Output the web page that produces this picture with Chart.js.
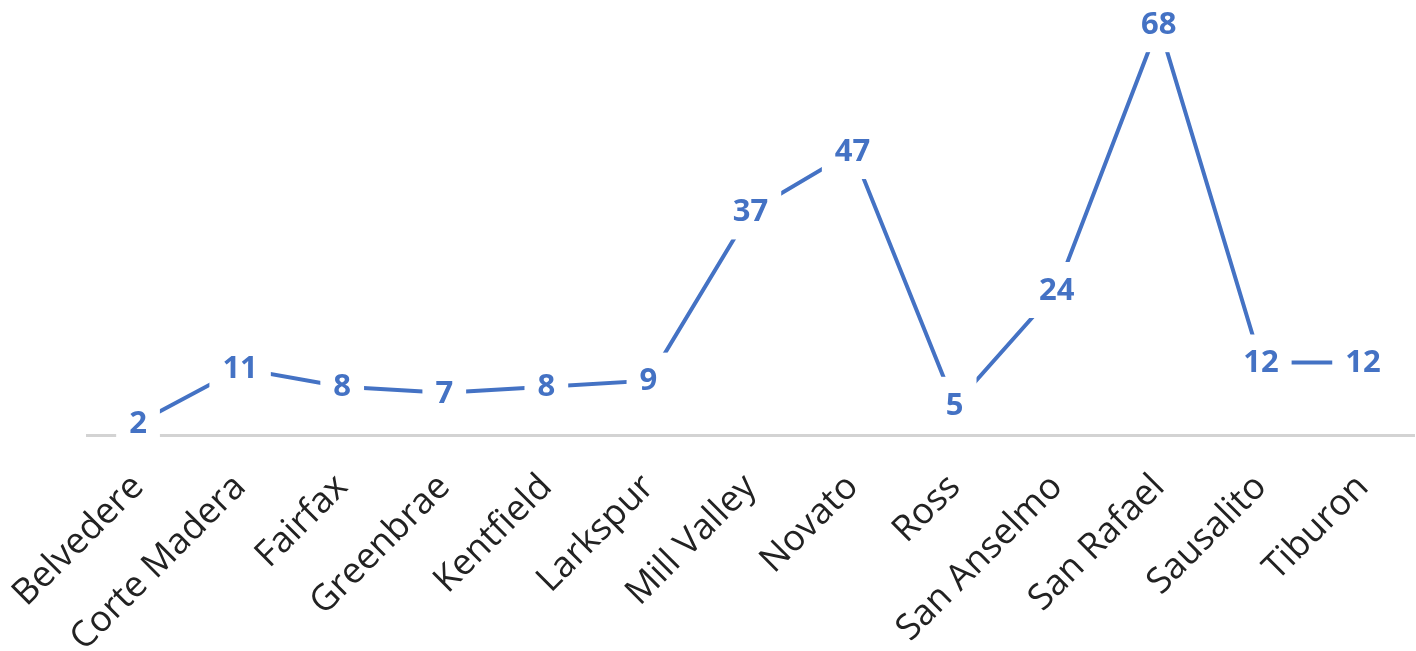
<!DOCTYPE html>
<html>
<head>
<meta charset="utf-8">
<script src="https://cdn.jsdelivr.net/npm/chart.js@4"></script>
<style>
  html, body { margin: 0; padding: 0; background: #fff; }
  #wrap { width: 1416px; height: 651px; }
</style>
</head>
<body>
<div id="wrap"><canvas id="c"></canvas></div>
<script>
// ===== data =====
const towns  = ['Belvedere', 'Corte Madera', 'Fairfax', 'Greenbrae', 'Kentfield', 'Larkspur',
                'Mill Valley', 'Novato', 'Ross', 'San Anselmo', 'San Rafael', 'Sausalito', 'Tiburon'];
const counts = [2, 11, 8, 7, 8, 9, 37, 47, 5, 24, 68, 12, 12];

const BLUE = '#4472c4';
const GRAY = '#d3d3d3';

// labels on top of the points, with a white box that cuts the line
const pointLabels = {
  id: 'pointLabels',
  afterDatasetsDraw(chart) {
    const ctx = chart.ctx;
    const meta = chart.getDatasetMeta(0);
    ctx.save();
    ctx.font = 'bold 31px "Open Sans"';
    ctx.textAlign = 'center';
    ctx.textBaseline = 'middle';
    meta.data.forEach((pt, i) => {
      const txt = String(counts[i]);
      const w = ctx.measureText(txt).width;
      ctx.fillStyle = '#fff';
      ctx.fillRect(pt.x - w / 2 - 13, pt.y - 28, w + 26, 56);
      ctx.fillStyle = BLUE;
      ctx.fillText(txt, pt.x, pt.y + 1);
    });
    ctx.restore();
  }
};

new Chart(document.getElementById('c'), {
  type: 'line',
  data: {
    labels: towns,
    datasets: [{
      data: counts,
      borderColor: BLUE,
      borderWidth: 4,
      pointRadius: 0,
      tension: 0,
      fill: false,
    }]
  },
  options: {
    responsive: true,
    maintainAspectRatio: false,
    animation: false,
    layout: { padding: { left: 87, right: 2, top: 0, bottom: 0 } },
    plugins: { legend: { display: false }, tooltip: { enabled: false } },
    scales: {
      x: {
        offset: true,
        grid: { display: false, drawTicks: false },
        border: { display: true, color: GRAY, width: 3 },
        ticks: {
          color: '#222',
          font: { family: '"Open Sans"', size: 36 },
          minRotation: 45, maxRotation: 45,
          autoSkip: false,
          padding: 31,
        },
        afterFit: s => { s.paddingLeft = 0; s.paddingRight = 0; s.height = 216; },
      },
      y: {
        display: false,
        min: 0,
        max: 72,
      }
    }
  },
  plugins: [pointLabels]
});
</script>
</body>
</html>
